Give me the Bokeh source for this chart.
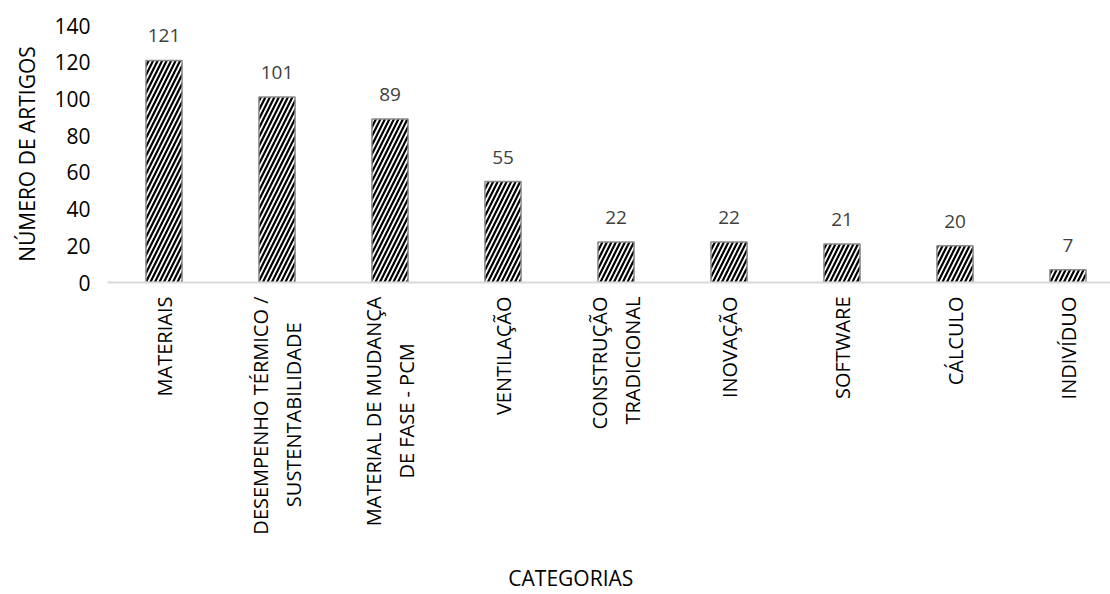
from bokeh.plotting import figure
from bokeh.models import ColumnDataSource, Range1d, FixedTicker, LabelSet
from bokeh.core.properties import value
from bokeh.embed import file_html
from bokeh.resources import INLINE
import math

NBSP = "\u00a0"

# category names; second lines are padded so they sit centred under the first
categories = [
    "MATERIAIS",
    "DESEMPENHO TÉRMICO /\nSUSTENTABILIDADE" + NBSP * 5,
    "MATERIAL DE MUDANÇA\nDE FASE - PCM" + NBSP * 9,
    "VENTILAÇÃO",
    "CONSTRUÇÃO\nTRADICIONAL",
    "INOVAÇÃO",
    "SOFTWARE",
    "CÁLCULO",
    "INDIVÍDUO",
]
articles = [121, 101, 89, 55, 22, 22, 21, 20, 7]
y_ticks = [0, 20, 40, 60, 80, 100, 120, 140]

FONT = "Open Sans"

positions = list(range(len(categories)))
source = ColumnDataSource(dict(
    x=positions,
    top=articles,
    label=[str(v) for v in articles],
))

left_border = 107
frame_w = 1110 - left_border
slot = 113.0

p = figure(
    width=1110, height=594,
    output_backend="svg", toolbar_location=None,
    x_range=Range1d(-0.5, -0.5 + frame_w / slot),
    y_range=Range1d(0, 140),
    min_border_left=left_border, min_border_right=0,
    min_border_top=25, min_border_bottom=311,
)
p.outline_line_color = None
p.grid.visible = False
p.background_fill_color = "white"
p.border_fill_color = "white"

p.vbar(
    x="x", top="top", bottom=0, width=0.32, source=source,
    fill_color="white", line_color="#8c8c8c", line_width=1.5,
    hatch_pattern="/", hatch_color="black", hatch_scale=9, hatch_weight=2.2,
)

labels = LabelSet(
    x="x", y="top", text="label", source=source,
    text_align="center", text_baseline="bottom", y_offset=18,
    text_font=value(FONT), text_font_size=value("19px"), text_color=value("#404040"),
)
p.add_layout(labels)

# y axis
ya = p.yaxis[0]
ya.ticker = FixedTicker(ticks=y_ticks)
ya.axis_line_color = None
ya.major_tick_line_color = None
ya.minor_tick_line_color = None
ya.major_tick_out = 0
ya.major_tick_in = 0
ya.major_label_standoff = 17
ya.major_label_text_font = FONT
ya.major_label_text_font_size = "21px"
ya.major_label_text_color = "#000000"
ya.axis_label = "NÚMERO DE ARTIGOS"
ya.axis_label_text_font = FONT
ya.axis_label_text_font_size = "21px"
ya.axis_label_text_font_style = "normal"
ya.axis_label_text_color = "#000000"
ya.axis_label_standoff = 10

# x axis; the title is padded on the right to sit a little left of centre
xa = p.xaxis[0]
xa.ticker = FixedTicker(ticks=positions)
xa.major_label_overrides = {i: c for i, c in enumerate(categories)}
xa.major_label_orientation = math.pi / 2
xa.axis_line_color = "#d9d9d9"
xa.axis_line_width = 2
xa.major_tick_line_color = None
xa.minor_tick_line_color = None
xa.major_tick_out = 0
xa.major_tick_in = 0
xa.major_label_standoff = 14
xa.major_label_text_font = FONT
xa.major_label_text_font_size = "20px"
xa.major_label_text_color = "#000000"
xa.axis_label = "CATEGORIAS" + NBSP * 14
xa.axis_label_text_font = FONT
xa.axis_label_text_font_size = "21px"
xa.axis_label_text_font_style = "normal"
xa.axis_label_text_color = "#000000"
xa.axis_label_standoff = 26

open("out.html", "w").write(file_html(p, INLINE))
